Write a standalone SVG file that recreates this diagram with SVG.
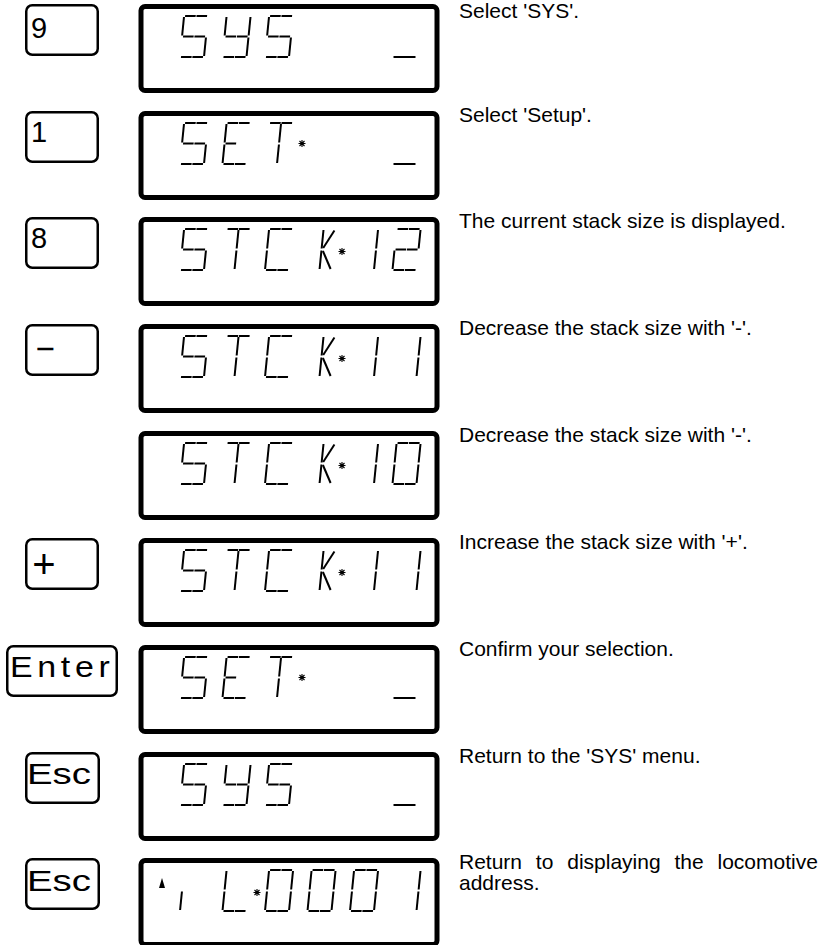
<svg xmlns="http://www.w3.org/2000/svg" width="823" height="945" viewBox="0 0 823 945">
<style>
.key{fill:#fff;stroke:#000;stroke-width:2.5}
.lcd{fill:#fff;stroke:#000;stroke-width:5}
.sg{fill:none;stroke:#000;stroke-width:2}
.ast{fill:none;stroke:#000;stroke-width:1.1}
.kt{font-family:"Liberation Sans",Arial,sans-serif;font-size:29px;fill:#000}
.desc{font-family:"Liberation Sans",Arial,sans-serif;font-size:21px;fill:#000}
</style>
<defs>
<path id="s-a1" class="sg" d="M1,-41H11.6"/>
<path id="s-a2" class="sg" d="M12.4,-41H23"/>
<path id="s-b" class="sg" d="M24,-40V-21.5"/>
<path id="s-c" class="sg" d="M24,-19.5V-1"/>
<path id="s-d1" class="sg" d="M1,0H11.6"/>
<path id="s-d2" class="sg" d="M12.4,0H23"/>
<path id="s-e" class="sg" d="M0,-19.5V-1"/>
<path id="s-f" class="sg" d="M0,-40V-21.5"/>
<path id="s-g1" class="sg" d="M1,-20.5H11.6"/>
<path id="s-g2" class="sg" d="M12.4,-20.5H23"/>
<path id="s-i" class="sg" d="M12,-40V-21.5"/>
<path id="s-l" class="sg" d="M12,-19.5V-1"/>
<path id="s-k" class="sg" d="M13.5,-22L23,-39.5"/>
<path id="s-m" class="sg" d="M13.5,-19L23,-1"/>
<path id="s-u" class="sg" d="M1,0H23"/>
<g id="gS"><use href="#s-a1"/><use href="#s-a2"/><use href="#s-f"/><use href="#s-g1"/><use href="#s-g2"/><use href="#s-c"/><use href="#s-d1"/><use href="#s-d2"/></g>
<g id="gY"><use href="#s-f"/><use href="#s-b"/><use href="#s-g1"/><use href="#s-g2"/><use href="#s-c"/><use href="#s-d1"/><use href="#s-d2"/></g>
<g id="gE"><use href="#s-a1"/><use href="#s-a2"/><use href="#s-f"/><use href="#s-e"/><use href="#s-g1"/><use href="#s-d1"/><use href="#s-d2"/></g>
<g id="gT"><use href="#s-a1"/><use href="#s-a2"/><use href="#s-i"/><use href="#s-l"/></g>
<g id="gC"><use href="#s-a1"/><use href="#s-a2"/><use href="#s-f"/><use href="#s-e"/><use href="#s-d1"/><use href="#s-d2"/></g>
<g id="gK"><use href="#s-i"/><use href="#s-l"/><use href="#s-k"/><use href="#s-m"/></g>
<g id="g1"><use href="#s-b"/><use href="#s-c"/></g>
<g id="g2"><use href="#s-a1"/><use href="#s-a2"/><use href="#s-b"/><use href="#s-g1"/><use href="#s-g2"/><use href="#s-e"/><use href="#s-d1"/><use href="#s-d2"/></g>
<g id="g0"><use href="#s-a1"/><use href="#s-a2"/><use href="#s-b"/><use href="#s-c"/><use href="#s-d1"/><use href="#s-d2"/><use href="#s-e"/><use href="#s-f"/></g>
<g id="gL"><use href="#s-f"/><use href="#s-e"/><use href="#s-d1"/><use href="#s-d2"/></g>
<g id="gU"><use href="#s-u"/></g>
<g id="gComma"><use href="#s-e"/></g>
<path id="ast" class="ast" d="M-3.5,0H3.5M0,-3.5V3.5M-2.5,-2.5L2.5,2.5M-2.5,2.5L2.5,-2.5"/>
</defs>

<!-- Row 1 -->
<g id="key1"><rect class="key" x="26.25" y="5.25" width="71.5" height="49.5" rx="6"/><text class="kt" x="31" y="38">9</text></g>
<g id="lcd1" aria-label="SYS _"><rect class="lcd" x="141" y="6.5" width="296" height="84" rx="4"/>
<use href="#gS" transform="translate(180,57) skewX(-5.7)"/>
<use href="#gY" transform="translate(222.5,57) skewX(-5.7)"/>
<use href="#gS" transform="translate(265,57) skewX(-5.7)"/>
<use href="#gU" transform="translate(392.5,57)"/></g>
<g id="txt1"><text class="desc" x="459" y="18">Select 'SYS'.</text></g>

<!-- Row 2 -->
<g id="key2"><rect class="key" x="26.25" y="112.25" width="71.5" height="49.5" rx="6"/><text class="kt" x="31" y="142">1</text></g>
<g id="lcd2" aria-label="SET* _"><rect class="lcd" x="141" y="113.5" width="296" height="84" rx="4"/>
<use href="#gS" transform="translate(180,164) skewX(-5.7)"/>
<use href="#gE" transform="translate(222.5,164) skewX(-5.7)"/>
<use href="#gT" transform="translate(265,164) skewX(-5.7)"/>
<use href="#ast" x="302" y="143.5"/>
<use href="#gU" transform="translate(392.5,164)"/></g>
<g id="txt2"><text class="desc" x="459" y="122">Select 'Setup'.</text></g>

<!-- Row 3 -->
<g id="key3"><rect class="key" x="26.25" y="218.25" width="71.5" height="49.5" rx="6"/><text class="kt" x="31" y="248">8</text></g>
<g id="lcd3" aria-label="STCK* 12"><rect class="lcd" x="141" y="219.5" width="296" height="84" rx="4"/>
<use href="#gS" transform="translate(180,270) skewX(-5.7)"/>
<use href="#gT" transform="translate(222.5,270) skewX(-5.7)"/>
<use href="#gC" transform="translate(265,270) skewX(-5.7)"/>
<use href="#gK" transform="translate(307.5,270) skewX(-5.7)"/>
<use href="#ast" x="342" y="251.5"/>
<use href="#g1" transform="translate(350,270) skewX(-5.7)"/>
<use href="#g2" transform="translate(392.5,270) skewX(-5.7)"/></g>
<g id="txt3"><text class="desc" x="459" y="228">The current stack size is displayed.</text></g>

<!-- Row 4 -->
<g id="key4"><rect class="key" x="26.25" y="325.25" width="71.5" height="49.5" rx="6"/><text class="kt" style="font-size:33px" x="35.5" y="360">−</text></g>
<g id="lcd4" aria-label="STCK* 11"><rect class="lcd" x="141" y="326.5" width="296" height="84" rx="4"/>
<use href="#gS" transform="translate(180,377) skewX(-5.7)"/>
<use href="#gT" transform="translate(222.5,377) skewX(-5.7)"/>
<use href="#gC" transform="translate(265,377) skewX(-5.7)"/>
<use href="#gK" transform="translate(307.5,377) skewX(-5.7)"/>
<use href="#ast" x="342" y="358.5"/>
<use href="#g1" transform="translate(350,377) skewX(-5.7)"/>
<use href="#g1" transform="translate(392.5,377) skewX(-5.7)"/></g>
<g id="txt4"><text class="desc" x="459" y="335">Decrease the stack size with '-'.</text></g>

<!-- Row 5 -->
<g id="lcd5" aria-label="STCK* 10"><rect class="lcd" x="141" y="433.5" width="296" height="84" rx="4"/>
<use href="#gS" transform="translate(180,484) skewX(-5.7)"/>
<use href="#gT" transform="translate(222.5,484) skewX(-5.7)"/>
<use href="#gC" transform="translate(265,484) skewX(-5.7)"/>
<use href="#gK" transform="translate(307.5,484) skewX(-5.7)"/>
<use href="#ast" x="342" y="465.5"/>
<use href="#g1" transform="translate(350,484) skewX(-5.7)"/>
<use href="#g0" transform="translate(392.5,484) skewX(-5.7)"/></g>
<g id="txt5"><text class="desc" x="459" y="442">Decrease the stack size with '-'.</text></g>

<!-- Row 6 -->
<g id="key6"><rect class="key" x="26.25" y="539.25" width="71.5" height="49.5" rx="6"/><text class="kt" style="font-size:40px" x="32.3" y="578">+</text></g>
<g id="lcd6" aria-label="STCK* 11"><rect class="lcd" x="141" y="540.5" width="296" height="84" rx="4"/>
<use href="#gS" transform="translate(180,591) skewX(-5.7)"/>
<use href="#gT" transform="translate(222.5,591) skewX(-5.7)"/>
<use href="#gC" transform="translate(265,591) skewX(-5.7)"/>
<use href="#gK" transform="translate(307.5,591) skewX(-5.7)"/>
<use href="#ast" x="342" y="572.5"/>
<use href="#g1" transform="translate(350,591) skewX(-5.7)"/>
<use href="#g1" transform="translate(392.5,591) skewX(-5.7)"/></g>
<g id="txt6"><text class="desc" x="459" y="549">Increase the stack size with '+'.</text></g>

<!-- Row 7 -->
<g id="key7"><rect class="key" x="7.25" y="646.25" width="109.5" height="49.5" rx="6"/><text class="kt" transform="translate(10,677) scale(1.17,1)" letter-spacing="4">Enter</text></g>
<g id="lcd7" aria-label="SET* _"><rect class="lcd" x="141" y="647.5" width="296" height="84" rx="4"/>
<use href="#gS" transform="translate(180,698) skewX(-5.7)"/>
<use href="#gE" transform="translate(222.5,698) skewX(-5.7)"/>
<use href="#gT" transform="translate(265,698) skewX(-5.7)"/>
<use href="#ast" x="302" y="677.5"/>
<use href="#gU" transform="translate(392.5,698)"/></g>
<g id="txt7"><text class="desc" x="459" y="656">Confirm your selection.</text></g>

<!-- Row 8 -->
<g id="key8"><rect class="key" x="26.25" y="753.25" width="72.5" height="49.5" rx="6"/><text class="kt" x="27" y="784" textLength="64" lengthAdjust="spacingAndGlyphs">Esc</text></g>
<g id="lcd8" aria-label="SYS _"><rect class="lcd" x="141" y="754.5" width="296" height="84" rx="4"/>
<use href="#gS" transform="translate(180,805) skewX(-5.7)"/>
<use href="#gY" transform="translate(222.5,805) skewX(-5.7)"/>
<use href="#gS" transform="translate(265,805) skewX(-5.7)"/>
<use href="#gU" transform="translate(392.5,805)"/></g>
<g id="txt8"><text class="desc" x="459" y="763">Return to the 'SYS' menu.</text></g>

<!-- Row 9 -->
<g id="key9"><rect class="key" x="26.25" y="859.25" width="72.5" height="49.5" rx="6"/><text class="kt" x="27" y="891" textLength="64" lengthAdjust="spacingAndGlyphs">Esc</text></g>
<g id="lcd9" aria-label="L* 0001"><rect class="lcd" x="141" y="860.5" width="296" height="84" rx="4"/>
<polygon points="159,888 165,888 162,878" fill="#000"/>
<use href="#gComma" transform="translate(180,911) skewX(-5.7)"/>
<use href="#gL" transform="translate(222.5,911) skewX(-5.7)"/>
<use href="#ast" x="257" y="892.5"/>
<use href="#g0" transform="translate(265,911) skewX(-5.7)"/>
<use href="#g0" transform="translate(307.5,911) skewX(-5.7)"/>
<use href="#g0" transform="translate(350,911) skewX(-5.7)"/>
<use href="#g1" transform="translate(392.5,911) skewX(-5.7)"/></g>
<g id="txt9"><text class="desc" x="459" y="869" word-spacing="8">Return to displaying the locomotive</text><text class="desc" x="459" y="890">address.</text></g>
</svg>
